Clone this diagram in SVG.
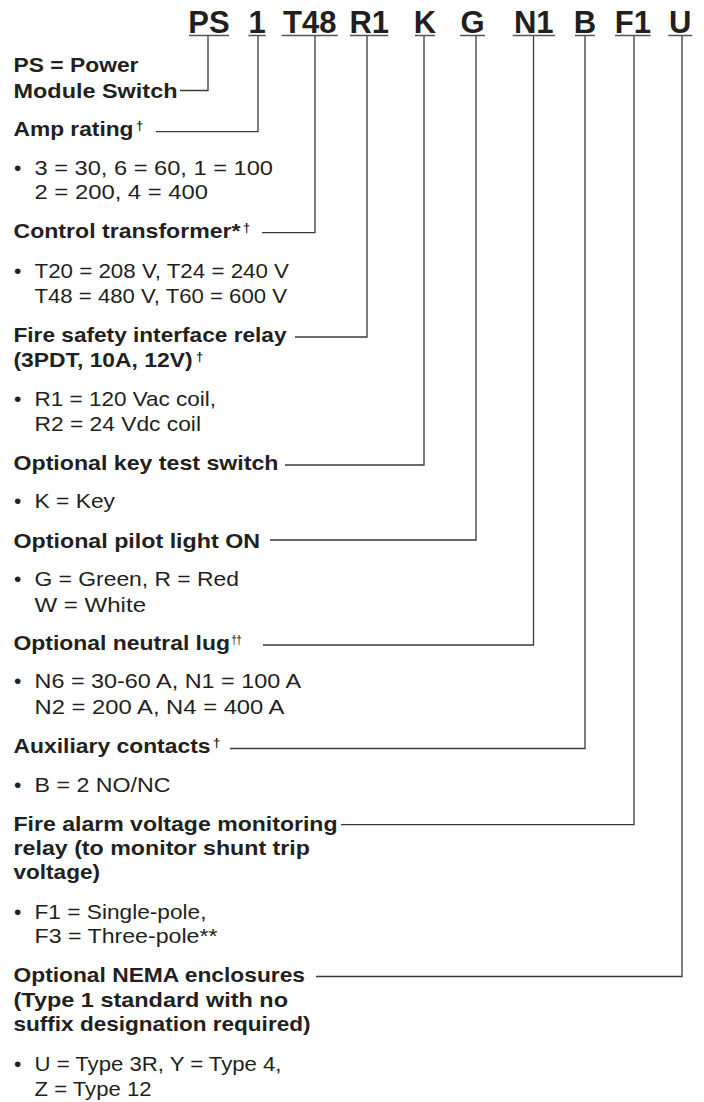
<svg xmlns="http://www.w3.org/2000/svg" width="704" height="1102" viewBox="0 0 704 1102">
<style>
text { font-family: "Liberation Sans", Arial, Helvetica, sans-serif; fill: #231f20; }
.h { font-size: 31px; font-weight: bold; text-anchor: middle; }
.b { font-size: 21px; font-weight: bold; }
.r { font-size: 21px; font-weight: normal; }
.sup { font-size: 13px; font-weight: bold; }
.ul { stroke: #555; stroke-width: 1.5; }
.conn { fill: none; stroke: #3a3a3a; stroke-width: 1.3; }
</style>
<rect width="704" height="1102" fill="#ffffff"/>

<g id="connectors">
  <path class="conn" d="M208,35.5 V90.5 H180"/>
  <path class="conn" d="M258,35.5 V131.7 H156"/>
  <path class="conn" d="M315,35.5 V232.7 H262"/>
  <path class="conn" d="M367,35.5 V337 H295"/>
  <path class="conn" d="M424,35.5 V465 H285"/>
  <path class="conn" d="M476,35.5 V540 H270"/>
  <path class="conn" d="M533.5,35.5 V645 H263"/>
  <path class="conn" d="M585,35.5 V748.5 H230"/>
  <path class="conn" d="M634,35.5 V824.7 H341"/>
  <path class="conn" d="M682,35.5 V976.5 H316"/>
</g>

<g id="code-PS">
  <text class="h" x="209" y="33">PS</text>
  <line class="ul" x1="189" y1="35.5" x2="229" y2="35.5"/>
  <text class="b" x="13.5" y="72" textLength="125" lengthAdjust="spacingAndGlyphs">PS = Power</text>
  <text class="b" x="13.5" y="97.7" textLength="164" lengthAdjust="spacingAndGlyphs">Module Switch</text>
</g>

<g id="code-1">
  <text class="h" x="257" y="33">1</text>
  <line class="ul" x1="248.3" y1="35.5" x2="265.7" y2="35.5"/>
  <text class="b" x="13.5" y="136" textLength="120" lengthAdjust="spacingAndGlyphs">Amp rating</text>
  <text class="sup" x="136" y="130">†</text>
  <text class="r" x="14" y="175">•</text>
  <text class="r" x="34.5" y="175" textLength="238.5" lengthAdjust="spacingAndGlyphs">3 = 30, 6 = 60, 1 = 100</text>
  <text class="r" x="34.5" y="199" textLength="173.5" lengthAdjust="spacingAndGlyphs">2 = 200, 4 = 400</text>
</g>

<g id="code-T48">
  <text class="h" x="309.7" y="33">T48</text>
  <line class="ul" x1="281.7" y1="35.5" x2="337.7" y2="35.5"/>
  <text class="b" x="13.5" y="238" textLength="227" lengthAdjust="spacingAndGlyphs">Control transformer*</text>
  <text class="sup" x="243" y="232">†</text>
  <text class="r" x="14" y="278.3">•</text>
  <text class="r" x="34.5" y="278.3" textLength="254.5" lengthAdjust="spacingAndGlyphs">T20 = 208 V, T24 = 240 V</text>
  <text class="r" x="34.5" y="302.7" textLength="252.5" lengthAdjust="spacingAndGlyphs">T48 = 480 V, T60 = 600 V</text>
</g>

<g id="code-R1">
  <text class="h" x="369.2" y="33">R1</text>
  <line class="ul" x1="350" y1="35.5" x2="388.3" y2="35.5"/>
  <text class="b" x="13.5" y="342.3" textLength="273" lengthAdjust="spacingAndGlyphs">Fire safety interface relay</text>
  <text class="b" x="13.5" y="366.7" textLength="179" lengthAdjust="spacingAndGlyphs">(3PDT, 10A, 12V)</text>
  <text class="sup" x="196" y="360.7">†</text>
  <text class="r" x="14" y="405.5">•</text>
  <text class="r" x="34.5" y="405.5" textLength="181.5" lengthAdjust="spacingAndGlyphs">R1 = 120 Vac coil,</text>
  <text class="r" x="34.5" y="431" textLength="166.5" lengthAdjust="spacingAndGlyphs">R2 = 24 Vdc coil</text>
</g>

<g id="code-K">
  <text class="h" x="425" y="33">K</text>
  <line class="ul" x1="415" y1="35.5" x2="435" y2="35.5"/>
  <text class="b" x="13.5" y="470" textLength="265" lengthAdjust="spacingAndGlyphs">Optional key test switch</text>
  <text class="r" x="14" y="508.3">•</text>
  <text class="r" x="34.5" y="508.3" textLength="80.5" lengthAdjust="spacingAndGlyphs">K = Key</text>
</g>

<g id="code-G">
  <text class="h" x="472.5" y="33">G</text>
  <line class="ul" x1="460" y1="35.5" x2="485" y2="35.5"/>
  <text class="b" x="13.5" y="547.7" textLength="246.5" lengthAdjust="spacingAndGlyphs">Optional pilot light ON</text>
  <text class="r" x="14" y="586">•</text>
  <text class="r" x="34.5" y="586" textLength="204.5" lengthAdjust="spacingAndGlyphs">G = Green, R = Red</text>
  <text class="r" x="34.5" y="611.7" textLength="111.5" lengthAdjust="spacingAndGlyphs">W = White</text>
</g>

<g id="code-N1">
  <text class="h" x="533.8" y="33">N1</text>
  <line class="ul" x1="512.7" y1="35.5" x2="555" y2="35.5"/>
  <text class="b" x="13.5" y="650" textLength="216.5" lengthAdjust="spacingAndGlyphs">Optional neutral lug</text>
  <text class="sup" x="231.5" y="644" textLength="10" lengthAdjust="spacingAndGlyphs">††</text>
  <text class="r" x="14" y="688.3">•</text>
  <text class="r" x="34.5" y="688.3" textLength="266.5" lengthAdjust="spacingAndGlyphs">N6 = 30-60 A, N1 = 100 A</text>
  <text class="r" x="34.5" y="714" textLength="250" lengthAdjust="spacingAndGlyphs">N2 = 200 A, N4 = 400 A</text>
</g>

<g id="code-B">
  <text class="h" x="585" y="33">B</text>
  <line class="ul" x1="575" y1="35.5" x2="595" y2="35.5"/>
  <text class="b" x="13.5" y="753" textLength="197" lengthAdjust="spacingAndGlyphs">Auxiliary contacts</text>
  <text class="sup" x="213" y="747">†</text>
  <text class="r" x="14" y="791.5">•</text>
  <text class="r" x="34.5" y="791.5" textLength="136" lengthAdjust="spacingAndGlyphs">B = 2 NO/NC</text>
</g>

<g id="code-F1">
  <text class="h" x="632.8" y="33">F1</text>
  <line class="ul" x1="615" y1="35.5" x2="650.7" y2="35.5"/>
  <text class="b" x="13.5" y="830.5" textLength="324" lengthAdjust="spacingAndGlyphs">Fire alarm voltage monitoring</text>
  <text class="b" x="13.5" y="855" textLength="296.5" lengthAdjust="spacingAndGlyphs">relay (to monitor shunt trip</text>
  <text class="b" x="13.5" y="879" textLength="86.5" lengthAdjust="spacingAndGlyphs">voltage)</text>
  <text class="r" x="14" y="918.5">•</text>
  <text class="r" x="34.5" y="918.5" textLength="172" lengthAdjust="spacingAndGlyphs">F1 = Single-pole,</text>
  <text class="r" x="34.5" y="943.3" textLength="183" lengthAdjust="spacingAndGlyphs">F3 = Three-pole**</text>
</g>

<g id="code-U">
  <text class="h" x="680.3" y="33">U</text>
  <line class="ul" x1="668.3" y1="35.5" x2="692.3" y2="35.5"/>
  <text class="b" x="13.5" y="982" textLength="291.5" lengthAdjust="spacingAndGlyphs">Optional NEMA enclosures</text>
  <text class="b" x="13.5" y="1006.5" textLength="274.5" lengthAdjust="spacingAndGlyphs">(Type 1 standard with no</text>
  <text class="b" x="13.5" y="1031" textLength="297" lengthAdjust="spacingAndGlyphs">suffix designation required)</text>
  <text class="r" x="14" y="1071">•</text>
  <text class="r" x="34.5" y="1071" textLength="247" lengthAdjust="spacingAndGlyphs">U = Type 3R, Y = Type 4,</text>
  <text class="r" x="34.5" y="1096" textLength="117" lengthAdjust="spacingAndGlyphs">Z = Type 12</text>
</g>
</svg>
